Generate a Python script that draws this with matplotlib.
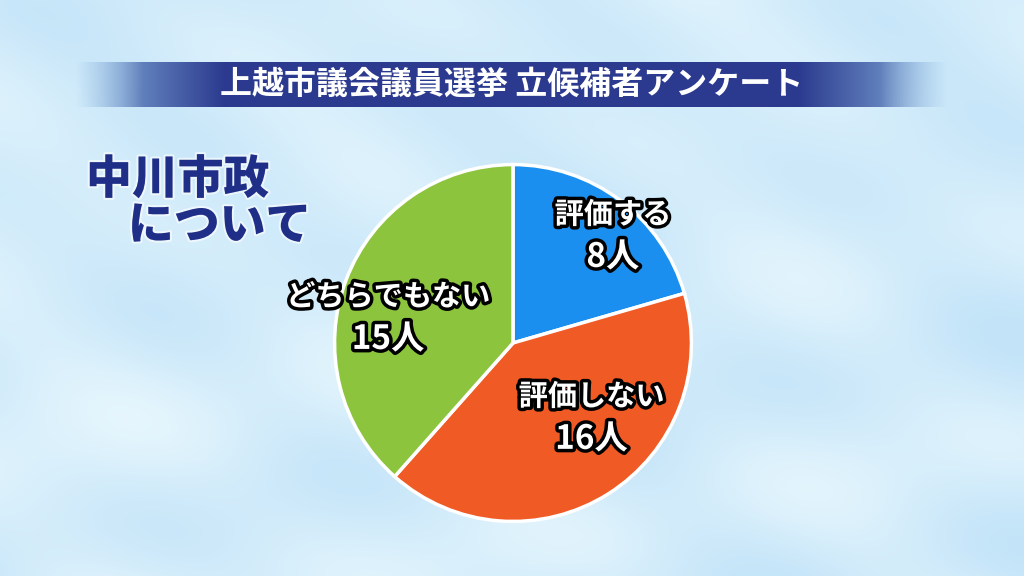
import numpy as np
import matplotlib
matplotlib.use("Agg")
import matplotlib.pyplot as plt
import matplotlib.patheffects as pe

plt.rcParams['font.family'] = ['Noto Sans CJK JP', 'DejaVu Sans']

# ---- data ----
categories = ["評価する", "評価しない", "どちらでもない"]
counts = [8, 16, 15]
unit = "人"
title = "上越市議会議員選挙 立候補者アンケート"
subject_line1 = "中川市政"
subject_line2 = "について"

colors = ["#1a8ff0", "#f05a24", "#8cc43e"]
label_pos = [(0.56, 0.60), (0.44, -0.42), (-0.70, 0.14)]

W, H = 1024, 576
fig = plt.figure(figsize=(W / 100, H / 100), dpi=100)

# background (soft sky texture)
bg = fig.add_axes([0, 0, 1, 1])
bg.set_axis_off()
yy, xx = np.mgrid[0:1:288j, 0:1:512j]
c_dark = np.array([0.74, 0.88, 0.97])
c_light = np.array([0.91, 0.97, 0.995])
pattern = (0.5
           + 0.18 * np.sin(xx * 11 + yy * 6) * np.cos(yy * 9 - xx * 5)
           + 0.12 * np.sin(xx * 23 - yy * 17 + 1.3)
           + 0.10 * np.cos(xx * 7 + yy * 19 + 0.4)
           - 0.15 * np.exp(-((xx - 0.18) ** 2 / 0.03 + (yy - 0.75) ** 2 / 0.05)))
t = np.clip(pattern, 0, 1)
img = c_light[None, None, :] * (1 - t[..., None]) + c_dark[None, None, :] * t[..., None]
bg.imshow(img, extent=[0, 1, 0, 1], aspect='auto', origin='upper', zorder=0,
          interpolation='bicubic')
bg.set_xlim(0, 1)
bg.set_ylim(0, 1)

# title banner with faded ends
bx0, bx1 = 75 / W, 948 / W
by0, by1 = 1 - 107 / H, 1 - 62 / H
gx = np.linspace(0, 1, 600)
f = np.clip(np.minimum(gx / 0.17, (1 - gx) / 0.17), 0, 1)
navy = np.array([0.17, 0.23, 0.56])
light = np.array([0.55, 0.72, 0.88])
band = np.zeros((1, 600, 4))
band[0, :, :3] = light[None, :] * (1 - f[:, None]) + navy[None, :] * f[:, None]
band[0, :, 3] = np.clip(f * 2.2, 0, 1)
bg.imshow(band, extent=[bx0, bx1, by0, by1], aspect='auto', zorder=1)
bg.text(0.5, (by0 + by1) / 2, title, ha='center', va='center', color='white',
        fontsize=23, fontweight='bold', zorder=2)

# subject text
glow = [pe.withStroke(linewidth=3, foreground='white', alpha=0.6)]
bg.text(86 / W, 1 - 180 / H, subject_line1, ha='left', va='center', color='#1f2f88',
        fontsize=33, fontweight='black', zorder=2, path_effects=glow)
bg.text(128 / W, 1 - 226 / H, subject_line2, ha='left', va='center', color='#1f2f88',
        fontsize=33, fontweight='black', zorder=2, path_effects=glow)

# pie
cx, cy, r = 513, 343, 182
pax = fig.add_axes([(cx - r) / W, (H - cy - r) / H, 2 * r / W, 2 * r / H])
wedges, _ = pax.pie(counts, colors=colors, startangle=90, counterclock=False,
                    radius=1.0,
                    wedgeprops=dict(edgecolor='white', linewidth=2.5))
pax.set_xlim(-1.02, 1.02)
pax.set_ylim(-1.02, 1.02)
pax.set_aspect('equal')
pax.set_axis_off()

stroke = [pe.withStroke(linewidth=5, foreground='black')]
for cat, n, (lx, ly) in zip(categories, counts, label_pos):
    pax.text(lx, ly + 0.12, cat, ha='center', va='center', color='white',
             fontsize=21, fontweight='bold', path_effects=stroke)
    pax.text(lx, ly - 0.12, f"{n}{unit}", ha='center', va='center', color='white',
             fontsize=24, fontweight='bold', path_effects=stroke)

fig.savefig("out.png", dpi=100)
